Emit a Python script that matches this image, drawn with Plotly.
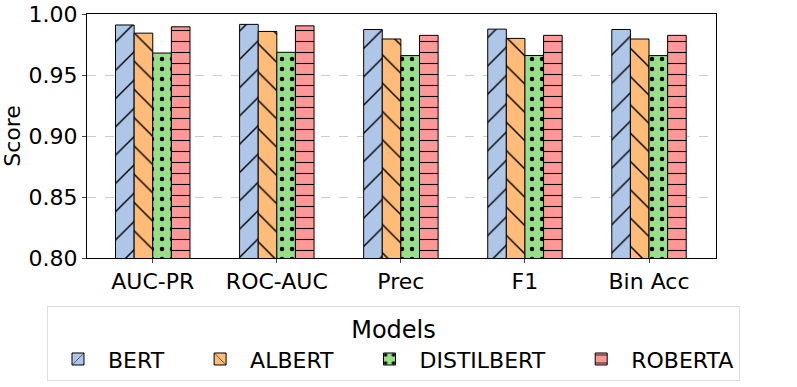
import plotly.graph_objects as go

metrics = ["AUC-PR", "ROC-AUC", "Prec", "F1", "Bin Acc"]
models = ["BERT", "ALBERT", "DISTILBERT", "ROBERTA"]
bert = [0.991, 0.9915, 0.9873, 0.9876, 0.9873]
albert = [0.9843, 0.9857, 0.9795, 0.9800, 0.9795]
distilbert = [0.9680, 0.9686, 0.9659, 0.9660, 0.9659]
roberta = [0.9895, 0.9903, 0.9825, 0.9825, 0.9825]

values = [bert, albert, distilbert, roberta]
colors = ["#aec7e8", "#ffbb78", "#98df8a", "#ff9896"]
patterns = ["/", "\\", ".", "-"]
psizes = [20, 20, 10, 11]
solid = [0.07, 0.07, 0.16, 0.1]
pad = "\u00a0" * 3

fig = go.Figure()
for i, (name, vals, c, p, s, so) in enumerate(zip(models, values, colors, patterns, psizes, solid)):
    fig.add_trace(go.Bar(
        x=metrics, y=vals, name=name + (pad if i < len(models) - 1 else ""),
        marker=dict(color=c, line=dict(color="black", width=1),
                    pattern=dict(shape=p, fgcolor="black", bgcolor=c, fgopacity=1,
                                 size=s, solidity=so)),
    ))

fig.update_layout(
    width=797, height=387,
    margin=dict(l=87, r=81, t=14, b=129, autoexpand=False),
    paper_bgcolor="white", plot_bgcolor="white",
    barmode="group", bargap=0.4, bargroupgap=0,
    font=dict(family="DejaVu Sans", size=22, color="black"),
    xaxis=dict(range=[-0.53, 4.54], showline=True, linecolor="black", mirror=True,
               ticks="outside", ticklen=4, tickfont=dict(size=22), automargin=False),
    yaxis=dict(range=[0.80, 1.00], dtick=0.05, tickformat=".2f", showline=True,
               linecolor="black", mirror=True, ticks="outside", ticklen=4,
               showgrid=True, gridcolor="#cccccc", griddash="dash", zeroline=False,
               title=dict(text="Score", font=dict(size=22), standoff=12),
               tickfont=dict(size=22), automargin=False, ticklabeloverflow="allow"),
    legend=dict(orientation="h", x=-0.0636, xanchor="left", y=-0.1967, yanchor="top",
                title=dict(text="Models", side="top center", font=dict(size=24)),
                bordercolor="#dddddd", borderwidth=1, font=dict(size=22),
                itemwidth=50, tracegroupgap=0),
)

fig.write_html("out.html", config={"displayModeBar": False},
               post_script="document.body.style.margin='0px';")
